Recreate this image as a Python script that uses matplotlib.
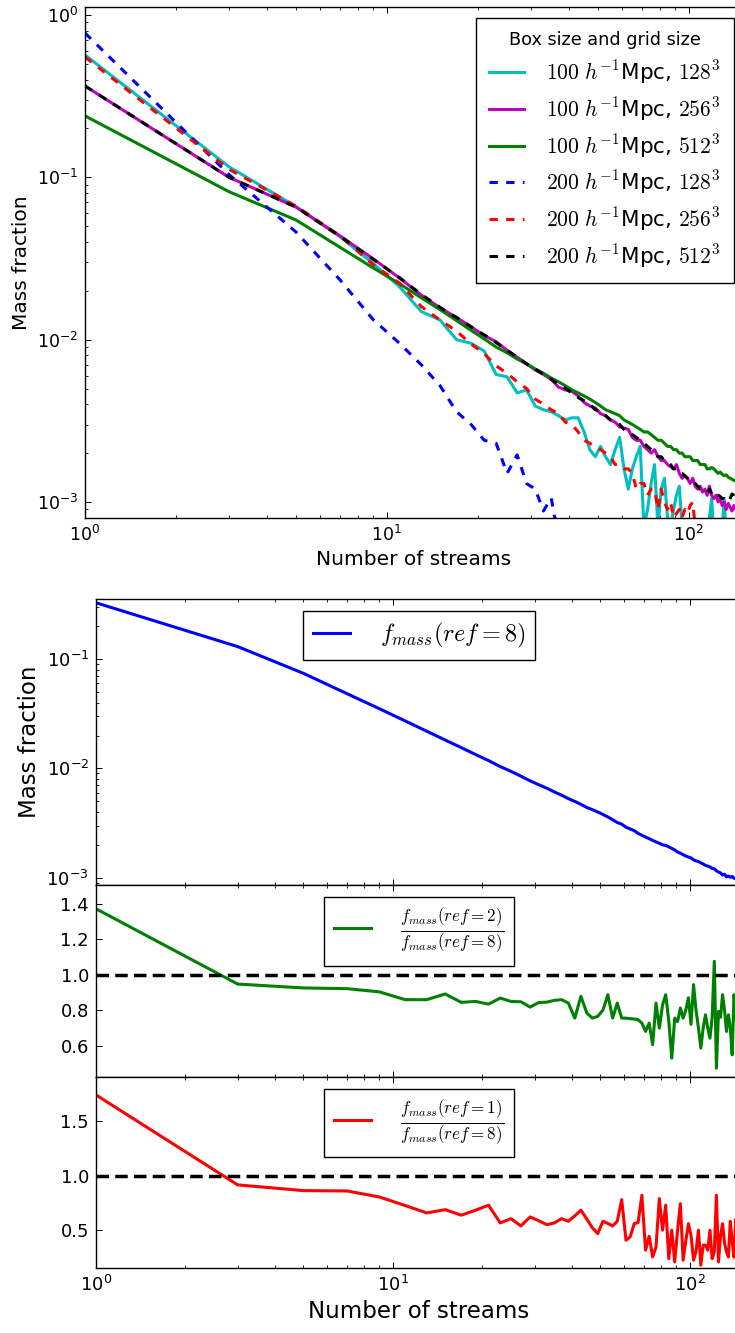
import numpy as np
import matplotlib
matplotlib.use("Agg")
import matplotlib.pyplot as plt
from matplotlib.ticker import MultipleLocator

# ── Data ─────────────────────────────────────────────────────────────────────
streams = np.arange(1, 150, 2)  # odd stream counts 1..149

mf_100_128 = [0.567, 0.116, 0.066, 0.043, 0.0295, 0.0212, 0.0149, 0.0132, 0.0100, 0.0095,
              0.0085, 0.0061, 0.0059, 0.0047, 0.0049, 0.0039, 0.0037, 0.0036, 0.0034, 0.0032,
              0.0033, 0.0033, 0.0027, 0.0021, 0.0019, 0.0022, 0.0019, 0.0017, 0.0021, 0.0025,
              0.0016, 0.0012, 0.0016, 0.0019, 0.0022, 0.0007, 0.0009, 0.0013, 0.0017, 0.0007,
              0.0012, 0.0014, 0.0008, 0.0007, 0.0009, 0.0011, 0.00125, 0.0007, 0.0006, 0.0007,
              0.0006, 0.0007, 0.0006, 0.0005, 0.0007, 0.0006, 0.0007, 0.0006, 0.0008, 0.00105,
              0.0006, 0.0007, 0.0006, 0.0005, 0.0007, 0.00104, 0.0006, 0.0007, 0.0006, 0.0005,
              0.0006, 0.0007, 0.0005, 0.0006, 0.0005]
mf_100_256 = [0.365, 0.100, 0.0655, 0.0435, 0.0315, 0.0240, 0.0188, 0.0157, 0.0137, 0.0120,
              0.0106, 0.0097, 0.0086, 0.0078, 0.0071, 0.0065, 0.0061, 0.0057, 0.0051, 0.0049,
              0.0048, 0.0045, 0.0041, 0.0039, 0.0038, 0.0035, 0.0034, 0.0032, 0.0031, 0.0029,
              0.00285, 0.0028, 0.0025, 0.0024, 0.0024, 0.0022, 0.0021, 0.0020, 0.0021, 0.0019,
              0.0018, 0.0018, 0.0017, 0.00165, 0.0016, 0.0017, 0.0015, 0.0014, 0.00145, 0.0014,
              0.0013, 0.0014, 0.00125, 0.0012, 0.00125, 0.00115, 0.0012, 0.0011, 0.00125, 0.0011,
              0.00105, 0.0011, 0.0010, 0.00105, 0.00095, 0.0010, 0.0009, 0.00098, 0.00093, 0.00088,
              0.00095, 0.0009, 0.00085, 0.0009, 0.00085]
mf_100_512 = [0.239, 0.0815, 0.0546, 0.037, 0.0277, 0.0221, 0.0181, 0.0153, 0.0131, 0.0114,
              0.0101, 0.0090, 0.0083, 0.0076, 0.0071, 0.0066, 0.0062, 0.0058, 0.0055, 0.0052,
              0.0049, 0.0047, 0.0045, 0.0043, 0.0041, 0.0039, 0.0037, 0.0036, 0.0035, 0.0034,
              0.0032, 0.0031, 0.0030, 0.0029, 0.0028, 0.0027, 0.0027, 0.0026, 0.0025, 0.0024,
              0.0024, 0.0023, 0.0022, 0.0022, 0.0021, 0.0021, 0.0020, 0.0020, 0.0019, 0.0019,
              0.0019, 0.0018, 0.0018, 0.0018, 0.0017, 0.0017, 0.0017, 0.0016, 0.0016, 0.00163,
              0.0016, 0.00155, 0.0015, 0.00153, 0.00148, 0.00145, 0.00147, 0.00142, 0.0014, 0.00138,
              0.00136, 0.00135, 0.0013, 0.0013, 0.00128]
mf_200_128 = [0.774, 0.104, 0.046, 0.0233, 0.0133, 0.0095, 0.0070, 0.0052, 0.0036, 0.0030,
              0.0024, 0.0023, 0.0015, 0.00195, 0.0013, 0.0012, 0.00088, 0.00106, 0.0006]
mf_200_256 = [0.551, 0.112, 0.0665, 0.0435, 0.029, 0.0223, 0.0160, 0.0132, 0.0113, 0.0094,
              0.0082, 0.0069, 0.0062, 0.0055, 0.0050, 0.0043, 0.0040, 0.0037, 0.0035, 0.0031,
              0.0030, 0.0027, 0.0024, 0.0023, 0.0022, 0.0021, 0.0020, 0.0019, 0.0017, 0.0017,
              0.0016, 0.0016, 0.0015, 0.0012, 0.0013, 0.0013, 0.0011, 0.0012, 0.0012, 0.0009,
              0.0012, 0.0010, 0.0009, 0.0010, 0.0008, 0.00085, 0.0009, 0.0008, 0.0009, 0.00085,
              0.00095, 0.0010, 0.0007, 0.0006, 0.0007, 0.0006, 0.0005, 0.0006, 0.0005, 0.0006,
              0.0005, 0.0005, 0.0006, 0.0005, 0.0004, 0.0005, 0.0005, 0.0004, 0.0005, 0.0004,
              0.0005, 0.0004, 0.0004, 0.0005, 0.0004]
mf_200_512 = [0.365, 0.100, 0.0655, 0.0433, 0.0313, 0.0241, 0.0190, 0.0158, 0.0137, 0.0120,
              0.0107, 0.0096, 0.0086, 0.0078, 0.0071, 0.0066, 0.0061, 0.0057, 0.0053, 0.0050,
              0.0047, 0.0044, 0.0042, 0.0040, 0.0037, 0.0036, 0.0034, 0.0032, 0.0031, 0.0030,
              0.0028, 0.0027, 0.0026, 0.0025, 0.0024, 0.0023, 0.0022, 0.0021, 0.00205, 0.0019,
              0.0019, 0.0018, 0.00175, 0.0017, 0.0016, 0.0016, 0.0015, 0.0015, 0.00145, 0.0014,
              0.00135, 0.0013, 0.0013, 0.00125, 0.0012, 0.0012, 0.00118, 0.00115, 0.0012, 0.00112,
              0.00115, 0.0011, 0.0011, 0.00108, 0.00105, 0.00105, 0.00102, 0.0010, 0.00105, 0.00112,
              0.0011, 0.00105, 0.0010, 0.0010, 0.00098]

top_labels = [r"$100\ h^{-1}$Mpc, $128^3$", r"$100\ h^{-1}$Mpc, $256^3$",
              r"$100\ h^{-1}$Mpc, $512^3$", r"$200\ h^{-1}$Mpc, $128^3$",
              r"$200\ h^{-1}$Mpc, $256^3$", r"$200\ h^{-1}$Mpc, $512^3$"]

fmass_ref8 = [0.327, 0.130, 0.074, 0.0483, 0.0352, 0.0272, 0.0219, 0.0182, 0.0155, 0.0134,
              0.0118, 0.0104, 0.0094, 0.0085, 0.0077, 0.0071, 0.0066, 0.0061, 0.0057, 0.0053,
              0.0050, 0.0047, 0.0044, 0.0042, 0.0040, 0.0038, 0.0036, 0.0034, 0.0032, 0.0031,
              0.0029, 0.0028, 0.0027, 0.00255, 0.00245, 0.00236, 0.00228, 0.0022, 0.00213, 0.00207,
              0.0020, 0.00198, 0.00192, 0.00186, 0.0018, 0.00172, 0.00168, 0.00163, 0.00158, 0.00155,
              0.00152, 0.00146, 0.00143, 0.00141, 0.00137, 0.00134, 0.0013, 0.00128, 0.00126, 0.00122,
              0.00121, 0.00116, 0.00113, 0.00111, 0.00106, 0.00108, 0.00102, 0.00104, 0.00101, 0.00103,
              0.00099, 0.0010, 0.00097, 0.00098, 0.00095]
ratio_ref2 = [1.371, 0.947, 0.925, 0.921, 0.903, 0.859, 0.859, 0.891, 0.844, 0.849,
              0.834, 0.868, 0.849, 0.847, 0.817, 0.843, 0.845, 0.855, 0.859, 0.840,
              0.755, 0.878, 0.784, 0.755, 0.765, 0.800, 0.887, 0.755, 0.840, 0.755,
              0.755, 0.752, 0.750, 0.746, 0.727, 0.680, 0.727, 0.605, 0.840, 0.699,
              0.830, 0.887, 0.740, 0.529, 0.755, 0.735, 0.812, 0.755, 0.800, 0.870,
              0.720, 0.944, 0.800, 0.700, 0.586, 0.700, 0.774, 0.700, 0.642, 0.760,
              1.075, 0.473, 0.793, 0.760, 0.887, 0.800, 0.680, 0.774, 0.700, 0.548,
              0.887, 0.760, 0.700, 0.820, 0.780]
ratio_ref1 = [1.742, 0.915, 0.862, 0.859, 0.804, 0.725, 0.657, 0.687, 0.636, 0.682,
              0.728, 0.565, 0.604, 0.537, 0.620, 0.585, 0.549, 0.565, 0.604, 0.580,
              0.630, 0.682, 0.600, 0.520, 0.466, 0.580, 0.560, 0.537, 0.580, 0.779,
              0.406, 0.436, 0.558, 0.568, 0.820, 0.314, 0.442, 0.252, 0.344, 0.789,
              0.498, 0.728, 0.236, 0.498, 0.206, 0.498, 0.742, 0.222, 0.400, 0.558,
              0.450, 0.222, 0.300, 0.498, 0.176, 0.360, 0.360, 0.314, 0.498, 0.236,
              0.300, 0.820, 0.206, 0.450, 0.558, 0.380, 0.300, 0.252, 0.580, 0.400,
              0.250, 0.600, 0.300, 0.450, 0.550]

# ── Style ────────────────────────────────────────────────────────────────────
plt.rcParams.update({
    "font.family": "DejaVu Sans",
    "xtick.direction": "in",
    "ytick.direction": "in",
    "xtick.top": True,
    "ytick.right": True,
    "xtick.major.size": 4.5,
    "ytick.major.size": 4.5,
    "xtick.minor.size": 2.2,
    "ytick.minor.size": 2.2,
    "xtick.major.width": 0.7,
    "ytick.major.width": 0.7,
    "xtick.minor.width": 0.6,
    "ytick.minor.width": 0.6,
    "xtick.major.pad": 5,
    "ytick.major.pad": 5,
    "axes.linewidth": 1.0,
    "legend.fancybox": False,
    "legend.framealpha": 1.0,
    "legend.edgecolor": "black",
    "lines.scale_dashes": False,
})

W, H = 735, 1333
fig = plt.figure(figsize=(W / 100, H / 100), dpi=100, facecolor="white")


def box(left, top, right, bottom):
    return [left / W, (H - bottom) / H, (right - left) / W, (bottom - top) / H]


# ── Top panel ────────────────────────────────────────────────────────────────
ax = fig.add_axes(box(85, 7, 742, 517.7))
LW = 2.2
n = streams
ax.plot(n, mf_100_128, color="c", lw=LW, label=top_labels[0])
ax.plot(n, mf_100_256, color="m", lw=LW, label=top_labels[1])
ax.plot(n, mf_100_512, color="g", lw=LW, label=top_labels[2])
ax.plot(n[:len(mf_200_128)], mf_200_128, color="b", lw=LW, ls="--", dashes=(6, 6), label=top_labels[3])
ax.plot(n, mf_200_256, color="r", lw=LW, ls="--", dashes=(6, 6), label=top_labels[4])
ax.plot(n, mf_200_512, color="k", lw=LW, ls="--", dashes=(6, 6), label=top_labels[5])
ax.set_xscale("log")
ax.set_yscale("log")
ax.set_xlim(1, 150)
ax.set_ylim(8.0e-4, 1.12)
ax.tick_params(labelsize=12.5)
ax.set_xlabel("Number of streams", fontsize=14.5)
ax.set_ylabel("Mass fraction", fontsize=14.5)
leg = ax.legend(loc="upper right", title="Box size and grid size", fontsize=15.5,
                title_fontsize=12.7, handlelength=1.6, handletextpad=1.05,
                labelspacing=0.42, borderpad=0.62,
                bbox_to_anchor=(734 / W, 1 - 18 / H), bbox_transform=fig.transFigure,
                borderaxespad=0)
for t in leg.get_texts():
    t.set_math_fontfamily("cm")

# ── Bottom panels ────────────────────────────────────────────────────────────
axA = fig.add_axes(box(96, 599, 742, 885))
axB = fig.add_axes(box(96, 885, 742, 1076.7), sharex=axA)
axC = fig.add_axes(box(96, 1076.7, 742, 1267.7), sharex=axA)

axA.plot(n, fmass_ref8, color="b", lw=LW, label=r"$f_{mass}(ref=8)$")
axA.set_xscale("log")
axA.set_yscale("log")
axA.set_xlim(1, 150)
axA.set_ylim(8.6e-4, 0.354)
axA.set_ylabel("Mass fraction", fontsize=16.5)

axB.plot(n, ratio_ref2, color="g", lw=LW,
         label=r"$\frac{f_{mass}(ref=2)}{f_{mass}(ref=8)}$")
axB.axhline(1.0, color="k", lw=2.5, ls="--", dashes=(9, 4.5))
axB.set_ylim(0.425, 1.505)
axB.yaxis.set_major_locator(MultipleLocator(0.2))

axC.plot(n, ratio_ref1, color="r", lw=LW,
         label=r"$\frac{f_{mass}(ref=1)}{f_{mass}(ref=8)}$")
axC.axhline(1.0, color="k", lw=2.5, ls="--", dashes=(9, 4.5))
axC.set_ylim(0.153, 1.91)
axC.yaxis.set_major_locator(MultipleLocator(0.5))
axC.set_xlabel("Number of streams", fontsize=16.5)

for a in (axA, axB, axC):
    a.tick_params(labelsize=13)
    lg = a.legend(loc="upper center", fontsize=17.5, handlelength=1.55,
                  handletextpad=1.2)
    for t in lg.get_texts():
        t.set_math_fontfamily("cm")
for a in (axA, axB):
    a.tick_params(labelbottom=False)

fig.savefig("out.png", dpi=100, facecolor="white")
